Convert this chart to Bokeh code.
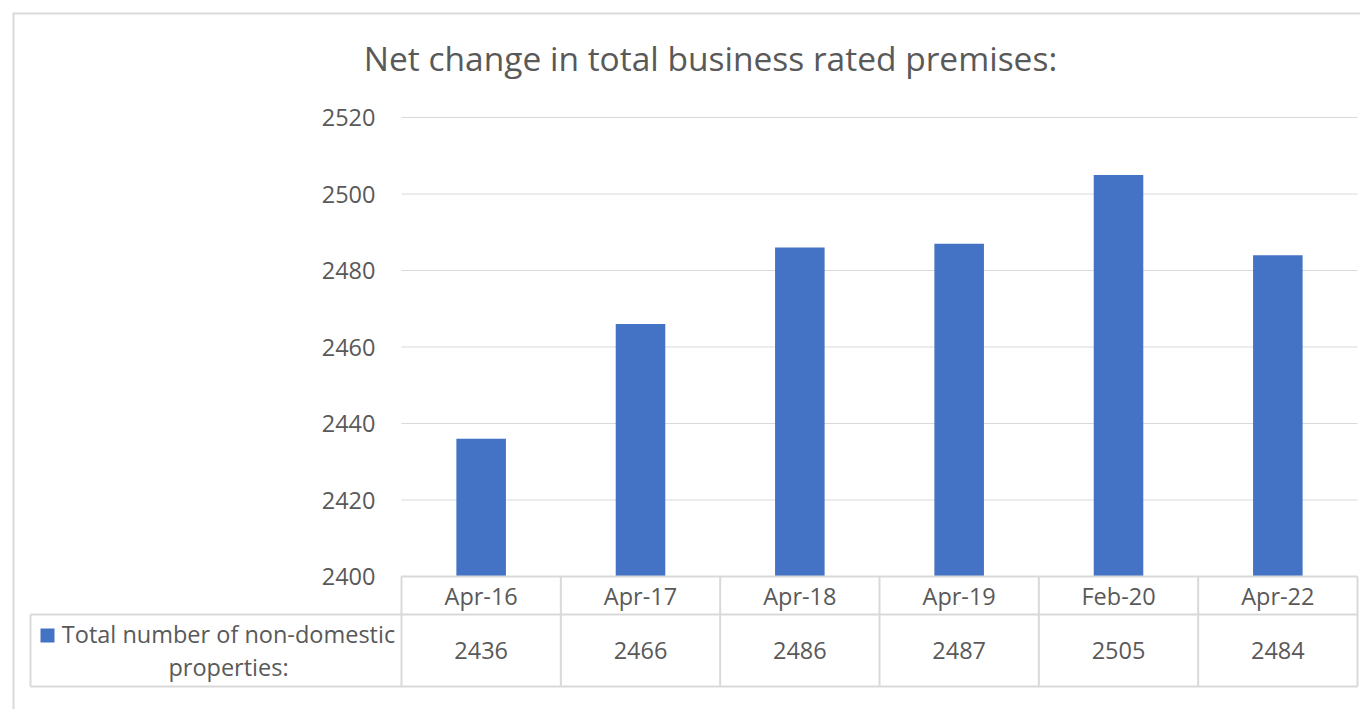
from bokeh.plotting import figure
from bokeh.models import Range1d, FixedTicker, Label
from bokeh.embed import file_html
from bokeh.resources import INLINE
from bokeh.core.properties import value

# ---- data ----
categories = ["Apr-16", "Apr-17", "Apr-18", "Apr-19", "Feb-20", "Apr-22"]
properties = [2436, 2466, 2486, 2487, 2505, 2484]
y_ticks = [2400, 2420, 2440, 2460, 2480, 2500, 2520]
series_name = "Total number of non-domestic\nproperties:"
title_text = "Net change in total business rated premises:"

# ---- layout (pixels) ----
W, H = 1360, 709
FRAME_L, FRAME_T = 12, 12
AREA_L, AREA_R = 401, 1357
AREA_T, AREA_B = 117, 576
TABLE_L = 30
ROW1_B, ROW2_B = 614, 686

TEXT = "#595959"
LINE = "#d9d9d9"
BAR = "#4472C4"
FONT = "Open Sans"

n = len(categories)
ux = (AREA_R - AREA_L) / n
y_lo, y_hi = y_ticks[0], y_ticks[-1]
uy = (AREA_B - AREA_T) / (y_hi - y_lo)


def X(px):
    return (px - AREA_L) / ux


def Y(py):
    return y_lo + (AREA_B - py) / uy


p = figure(width=W, height=H,
           x_range=Range1d(X(FRAME_L), X(W)), y_range=Range1d(Y(H), Y(FRAME_T)),
           min_border_left=FRAME_L, min_border_top=FRAME_T,
           min_border_right=0, min_border_bottom=0,
           toolbar_location=None, output_backend="svg",
           outline_line_color=None, background_fill_color="white",
           border_fill_color="white")
p.xaxis.visible = False
p.xgrid.visible = False
p.ygrid.visible = False

yax = p.yaxis[0]
yax.fixed_location = 0
yax.ticker = FixedTicker(ticks=y_ticks)
yax.axis_line_color = None
yax.major_tick_line_color = None
yax.minor_tick_line_color = None
yax.major_tick_out = 0
yax.major_tick_in = 0
yax.major_label_standoff = 26
yax.major_label_text_font = FONT
yax.major_label_text_font_size = "23.5px"
yax.major_label_text_color = TEXT

# gridlines
p.segment(x0=0, x1=n, y0=y_ticks, y1=y_ticks, line_color=LINE, line_width=1)

# bars
centers = [i + 0.5 for i in range(n)]
p.vbar(x=centers, top=properties, bottom=y_lo, width=0.311,
       fill_color=BAR, line_color=None)

# data table lines
xs_v = list(range(n + 1))
p.segment(x0=xs_v, x1=xs_v, y0=y_lo, y1=Y(ROW2_B), line_color=LINE, line_width=2)
p.segment(x0=[X(TABLE_L)], x1=[X(TABLE_L)], y0=[Y(ROW1_B)], y1=[Y(ROW2_B)],
          line_color=LINE, line_width=2)
p.segment(x0=[0, X(TABLE_L), X(TABLE_L)], x1=[n, n, n],
          y0=[y_lo, Y(ROW1_B), Y(ROW2_B)], y1=[y_lo, Y(ROW1_B), Y(ROW2_B)],
          line_color=LINE, line_width=2)

# table texts
p.text(x=centers, y=[Y((AREA_B + ROW1_B) / 2)] * n, text=categories,
       text_font=value(FONT), text_font_size="23.5px", text_color=TEXT,
       text_align="center", text_baseline="middle")
p.text(x=centers, y=[Y((ROW1_B + ROW2_B) / 2)] * n, text=[str(v) for v in properties],
       text_font=value(FONT), text_font_size="23.5px", text_color=TEXT,
       text_align="center", text_baseline="middle")
p.text(x=[X(228)], y=[Y((ROW1_B + ROW2_B) / 2)], text=[series_name],
       text_font=value(FONT), text_font_size="23.5px", text_color=TEXT,
       text_align="center", text_baseline="middle", text_line_height=1.05)
p.scatter(x=[X(47)], y=[Y(635)], marker="square", size=14,
          fill_color=BAR, line_color=None)

# chart border
p.segment(x0=[X(FRAME_L), X(FRAME_L)], x1=[X(W), X(FRAME_L)],
          y0=[Y(FRAME_T), Y(FRAME_T)], y1=[Y(FRAME_T), Y(H)],
          line_color=LINE, line_width=4)

# title
p.add_layout(Label(x=X(710), y=Y(57), text=title_text, text_align="center",
                   text_baseline="middle", text_font=FONT, text_font_size="33.5px",
                   text_color=TEXT))

open("out.html", "w").write(file_html(p, INLINE))
